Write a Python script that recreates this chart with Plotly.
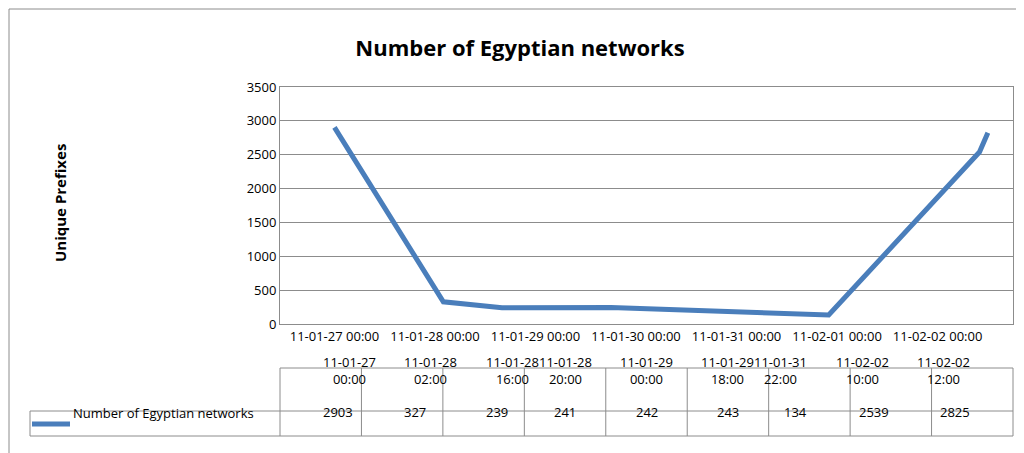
import plotly.graph_objects as go

times = ["2011-01-27 00:00", "2011-01-28 02:00", "2011-01-28 16:00", "2011-01-28 20:00",
         "2011-01-29 00:00", "2011-01-29 18:00", "2011-01-31 22:00", "2011-02-02 10:00",
         "2011-02-02 12:00"]
time_labels = ["11-01-27<br>00:00", "11-01-28<br>02:00", "11-01-28<br>16:00", "11-01-28<br>20:00",
               "11-01-29<br>00:00", "11-01-29<br>18:00", "11-01-31<br>22:00", "11-02-02<br>10:00",
               "11-02-02<br>12:00"]
prefixes = [2903, 327, 239, 241, 242, 243, 134, 2539, 2825]
series_name = "Number of Egyptian networks"

W, H = 1024, 453
L, R, T, B = 272, 1005, 79, 316
blue = "#4a7ebb"
grid = "#8c8c8c"
font = "Open Sans, Liberation Sans, sans-serif"

def px(x):
    return (x - L) / (R - L)

def py(y):
    return (B - y) / (B - T)

fig = go.Figure(go.Scatter(x=times, y=prefixes, mode="lines", name=series_name,
                           line=dict(color=blue, width=5)))

shapes = []
annotations = []
# data table
col_w = (R - L) / len(prefixes)
ty0, ty1, ty2 = 360, 403, 428
for yy in (ty0, ty1, ty2):
    x0 = L if yy == ty0 else 22
    shapes.append(dict(type="line", xref="paper", yref="paper", x0=px(x0), x1=px(R),
                       y0=py(yy), y1=py(yy), line=dict(color=grid, width=1)))
shapes.append(dict(type="line", xref="paper", yref="paper", x0=px(22), x1=px(22),
                   y0=py(ty1), y1=py(ty2), line=dict(color=grid, width=1)))
for i in range(len(prefixes) + 1):
    xx = L + i * col_w
    shapes.append(dict(type="line", xref="paper", yref="paper", x0=px(xx), x1=px(xx),
                       y0=py(ty0), y1=py(ty2), line=dict(color=grid, width=1)))
for i, (lab, v) in enumerate(zip(time_labels, prefixes)):
    cx = px(L + (i + 0.5) * col_w)
    annotations.append(dict(x=cx, y=py((ty0 + ty1) / 2), xref="paper", yref="paper",
                            text=lab, showarrow=False, font=dict(size=13, family=font)))
    annotations.append(dict(x=cx, y=py((ty1 + ty2) / 2), xref="paper", yref="paper",
                            text=str(v), showarrow=False, font=dict(size=13, family=font)))
shapes.append(dict(type="line", xref="paper", yref="paper", x0=px(24), x1=px(62),
                   y0=py(416), y1=py(416), line=dict(color=blue, width=5)))
annotations.append(dict(x=px(63), y=py(416), xref="paper", yref="paper", xanchor="left",
                        text=series_name, showarrow=False, font=dict(size=13, family=font)))
annotations.append(dict(x=px(40), y=py(195), xref="paper", yref="paper", textangle=-90,
                        text="<b>Unique Prefixes</b>", showarrow=False, font=dict(size=15, family=font)))
# outer border
shapes.append(dict(type="rect", xref="paper", yref="paper", x0=px(1), x1=px(1022),
                   y0=py(1), y1=py(451), line=dict(color=grid, width=1)))

fig.update_layout(
    width=W, height=H, margin=dict(l=L, r=W - R, t=T, b=H - B, autoexpand=False),
    plot_bgcolor="white", paper_bgcolor="white", showlegend=False,
    font=dict(family=font, size=13, color="black"),
    title=dict(text="<b>Number of Egyptian networks</b>", x=0.5, xanchor="center",
               y=1 - 40 / H, yanchor="middle", font=dict(size=22)),
    xaxis=dict(type="date", range=["2011-01-26 11:00", "2011-02-02 18:00"],
               dtick=86400000, tick0="2011-01-27", tickformat="%y-%m-%d %H:%M",
               showgrid=False, showline=True, linecolor=grid, mirror=True,
               ticks="", tickangle=0, automargin=False),
    yaxis=dict(range=[0, 3500], dtick=500, showgrid=True, gridcolor=grid,
               showline=True, linecolor=grid, mirror=True, ticks="", automargin=False),
    shapes=shapes, annotations=annotations,
)
fig.write_html("out.html")
